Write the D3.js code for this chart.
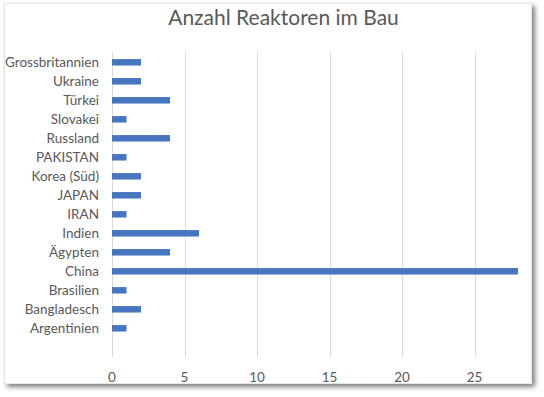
<!DOCTYPE html>
<html lang="de">
<head>
    <meta charset="UTF-8">
    <title>Anzahl Reaktoren im Bau</title>
    <script src="https://d3js.org/d3.v7.min.js"></script>
    <style>
        body {
            margin: 0;
            background: #fff;
        }

        .grid line {
            stroke: #d9d9d9;
            stroke-width: 1px;
        }

        .cat-label, .tick-label {
            font: 13.5px Lato, sans-serif;
            fill: #595959;
        }

        .title {
            font: 21px Lato, sans-serif;
            fill: #595959;
        }
    </style>
</head>
<body>
    <div id="chart"></div>

    <script>
        // Länder von oben nach unten
        const countries = ["Grossbritannien", "Ukraine", "Türkei", "Slovakei", "Russland", "PAKISTAN",
            "Korea (Süd)", "JAPAN", "IRAN", "Indien", "Ägypten", "China", "Brasilien", "Bangladesch", "Argentinien"];
        const reactors = [2, 2, 4, 1, 4, 1, 2, 2, 1, 6, 4, 28, 1, 2, 1];
        const xTicks = [0, 5, 10, 15, 20, 25];

        const width = 544;
        const height = 397;

        const svg = d3.select("#chart")
            .append("svg")
            .attr("width", width)
            .attr("height", height);

        const defs = svg.append("defs");
        const shadow = defs.append("filter")
            .attr("id", "shadow")
            .attr("x", "-5%").attr("y", "-5%")
            .attr("width", "115%").attr("height", "115%");
        shadow.append("feDropShadow")
            .attr("dx", 3).attr("dy", 3)
            .attr("stdDeviation", 2.5)
            .attr("flood-color", "#000")
            .attr("flood-opacity", 0.5);

        // Rahmen mit Schatten
        svg.append("rect")
            .attr("x", 4.5).attr("y", 3.5)
            .attr("width", 527).attr("height", 380)
            .attr("fill", "#fff")
            .attr("stroke", "#e6e6e6")
            .attr("filter", "url(#shadow)");

        const plotTop = 52;
        const plotBottom = 357;
        const band = 19;

        const x = d3.scaleLinear()
            .domain([0, 28])
            .range([112, 518]);

        const y = d3.scaleBand()
            .domain(countries)
            .range([plotTop + 0.8, plotTop + 0.8 + band * countries.length])
            .paddingInner(0.66)
            .paddingOuter(0.33);

        svg.append("g")
            .attr("class", "grid")
            .selectAll("line")
            .data(xTicks)
            .enter().append("line")
            .attr("x1", d => Math.round(x(d)) + 0.5)
            .attr("x2", d => Math.round(x(d)) + 0.5)
            .attr("y1", plotTop)
            .attr("y2", plotBottom);

        const data = countries.map((c, i) => ({ name: c, value: reactors[i] }));

        svg.append("g")
            .selectAll("rect")
            .data(data)
            .enter().append("rect")
            .attr("x", x(0))
            .attr("y", d => y(d.name))
            .attr("width", d => x(d.value) - x(0))
            .attr("height", y.bandwidth())
            .attr("fill", "#4775bf");

        svg.append("g")
            .selectAll("text")
            .data(countries)
            .enter().append("text")
            .attr("class", "cat-label")
            .attr("x", 99)
            .attr("y", d => y(d) + y.bandwidth() / 2)
            .attr("dy", "0.35em")
            .style("text-anchor", "end")
            .text(d => d);

        svg.append("g")
            .selectAll("text")
            .data(xTicks)
            .enter().append("text")
            .attr("class", "tick-label")
            .attr("x", d => x(d))
            .attr("y", 377)
            .attr("dy", "0.35em")
            .style("text-anchor", "middle")
            .text(d => d);

        svg.append("text")
            .attr("class", "title")
            .attr("x", 283.5)
            .attr("y", 25)
            .style("text-anchor", "middle")
            .text("Anzahl Reaktoren im Bau");
    </script>
</body>
</html>
